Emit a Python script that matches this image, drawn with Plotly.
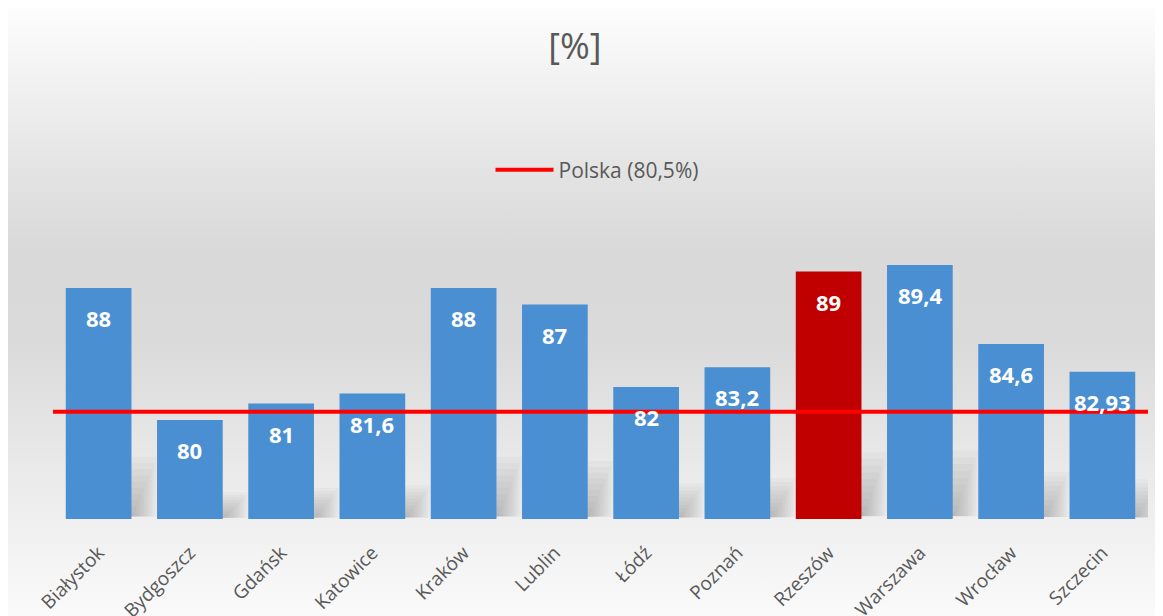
import base64
import plotly.graph_objects as go

# ---- data ----
cities = ["Białystok", "Bydgoszcz", "Gdańsk", "Katowice", "Kraków", "Lublin",
          "Łódź", "Poznań", "Rzeszów", "Warszawa", "Wrocław", "Szczecin"]
values = [88, 80, 81, 81.6, 88, 87, 82, 83.2, 89, 89.4, 84.6, 82.93]
labels = ["88", "80", "81", "81,6", "88", "87", "82", "83,2", "89", "89,4", "84,6", "82,93"]
highlight = "Rzeszów"
polska_value = 80.5
polska_name = "Polska (80,5%)"
title_text = "[%]"

# ---- styling ----
OFF = 8  # page body margin
W, H = 1163 - OFF, 616 - OFF
L, R, T, B = 53 - OFF, 1163 - 1148, 189 - OFF, 616 - 519
plot_w = W - L - R
plot_h = H - T - B
y_min, y_max = 74, 94
bar_colors = ["#C00000" if c == highlight else "#4A8FD2" for c in cities]

fig = go.Figure()
fig.add_trace(go.Bar(
    x=cities, y=values, marker=dict(color=bar_colors, line=dict(width=0)),
    showlegend=False, hoverinfo="x+y",
))
fig.add_trace(go.Scatter(
    x=[0, 1], y=[polska_value, polska_value], xaxis="x2", mode="lines",
    line=dict(color="#FF0000", width=4), name=polska_name, showlegend=True,
))

for c, v, t in zip(cities, values, labels):
    fig.add_annotation(x=c, y=v, text=t, showarrow=False, yshift=-30,
                       font=dict(family="Open Sans", size=22, color="white", weight="bold"))

# soft floor shadows behind bars (decorative)
n_layers = 10
for i, v in enumerate(values):
    h = 0.27 * (v - y_min)
    for k in range(1, n_layers + 1):
        fig.add_shape(type="rect", xref="x", yref="y", layer="below",
                      x0=i + 0.30, x1=i + 0.36 + 0.028 * k,
                      y0=y_min + h * 0.04, y1=y_min + h * k / n_layers,
                      fillcolor="rgba(0,0,0,0.022)", line=dict(width=0))

# background gradient as svg image
svg = '''<svg xmlns="http://www.w3.org/2000/svg" width="100" height="100" preserveAspectRatio="none">
<defs><linearGradient id="g" x1="0" y1="0" x2="0" y2="1">
<stop offset="0" stop-color="#fdfdfd"/>
<stop offset="0.26" stop-color="#e4e4e4"/>
<stop offset="0.40" stop-color="#d9d9d9"/>
<stop offset="0.55" stop-color="#dadada"/>
<stop offset="0.75" stop-color="#e9e9e9"/>
<stop offset="1" stop-color="#fafafa"/>
</linearGradient></defs>
<rect width="100" height="100" fill="url(#g)"/></svg>'''
src = "data:image/svg+xml;base64," + base64.b64encode(svg.encode()).decode()
fig.add_layout_image(
    source=src, xref="paper", yref="paper",
    x=-L / plot_w, y=(H - B) / plot_h,
    sizex=W / plot_w, sizey=H / plot_h,
    xanchor="left", yanchor="top", sizing="stretch", layer="below",
)

fig.update_layout(
    width=W, height=H,
    margin=dict(l=L, r=R, t=T, b=B, autoexpand=False),
    paper_bgcolor="white", plot_bgcolor="rgba(0,0,0,0)",
    bargap=0.28,
    font=dict(family="Open Sans", color="#595959"),
    title=dict(text=title_text, x=(575 - OFF) / W, xref="container", xanchor="center",
               y=1 - (46 - OFF) / H, yref="container", yanchor="middle",
               font=dict(family="Open Sans", size=36, color="#595959")),
    xaxis=dict(tickangle=-45, tickfont=dict(size=19, color="#595959"),
               range=[-0.5, len(cities) - 0.5], autorange=False,
               showline=False, showgrid=False, ticks="", ticklabelstandoff=18),
    xaxis2=dict(overlaying="x", range=[0, 1], visible=False, fixedrange=True),
    yaxis=dict(range=[y_min, y_max], autorange=False, visible=False, showgrid=False),
    legend=dict(orientation="h", x=(597 - 53) / plot_w, xanchor="center",
                y=(519 - 170) / plot_h, yanchor="middle",
                bgcolor="rgba(0,0,0,0)", font=dict(size=21, color="#595959"),
                itemwidth=58),
)

fig.write_html("out.html")
